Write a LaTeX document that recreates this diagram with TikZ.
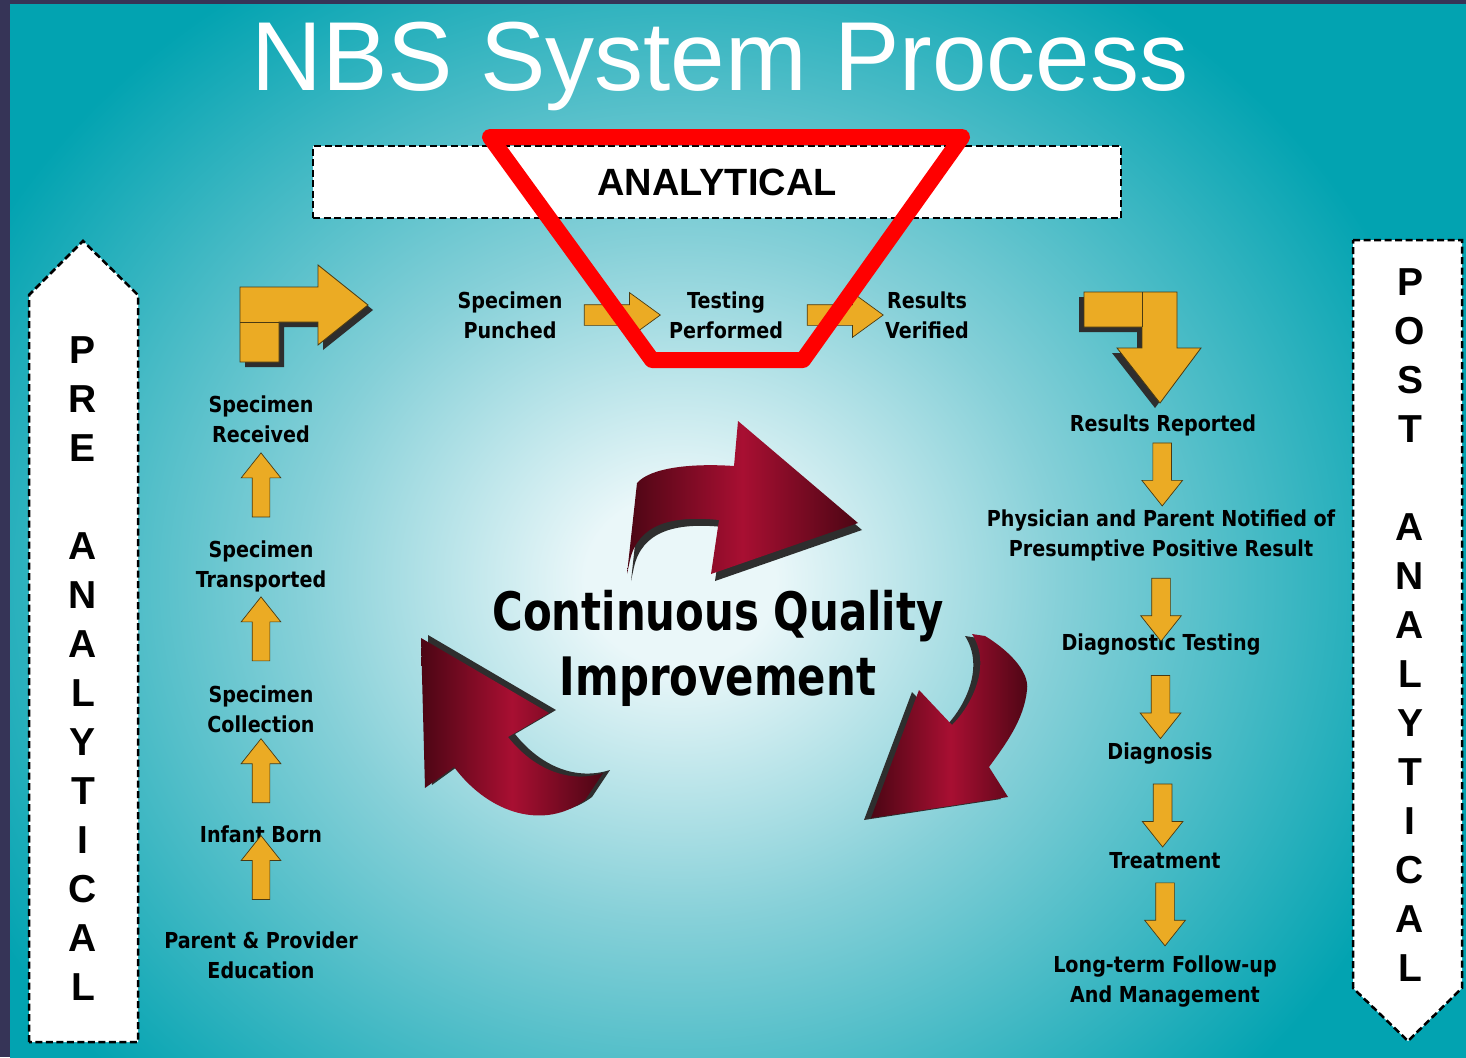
\documentclass[tikz,border=0pt]{standalone}
\usepackage{fontspec}
\setmainfont{DejaVu Sans}
\newfontfamily\lblfont{DejaVu Sans}[FakeStretch=0.87]
\newfontfamily\headfont{Liberation Sans}
\newfontfamily\cqifont{DejaVu Sans}[FakeStretch=0.79]
\usetikzlibrary{shapes.arrows}

\definecolor{bgteal}{HTML}{02A3B1}
\definecolor{glow}{HTML}{EAF7F9}
\definecolor{midteal}{HTML}{86D0D8}
\definecolor{framec}{HTML}{363457}
\definecolor{gold}{HTML}{EBAB24}
\definecolor{goldline}{HTML}{4A3A12}
\definecolor{crimson}{HTML}{A80F32}
\definecolor{maroon}{HTML}{4C0614}
\definecolor{shadowc}{HTML}{2E2E2E}

\pgfdeclareradialshading{glowbg}{\pgfpoint{0bp}{0bp}}{color(0bp)=(glow); color(3bp)=(glow); color(12bp)=(midteal); color(25bp)=(bgteal); color(50bp)=(bgteal)}

\tikzset{
  lbl/.style={font=\lblfont\bfseries\fontsize{22}{30}\selectfont, align=center, text=black, inner sep=1pt},
  banner/.style={font=\headfont\bfseries\fontsize{39}{49}\selectfont, align=center, inner sep=0pt},
  dashbox/.style={draw=black, fill=white, line width=2.5pt, dash pattern=on 7pt off 3.5pt},
  anabox/.style={dashbox, minimum width=808pt, minimum height=72pt, font=\headfont\bfseries\fontsize{38}{40}\selectfont},
  uparr/.style={single arrow, shape border rotate=90, draw=goldline, fill=gold, line width=.7pt,
    inner sep=0pt, text width=17pt, minimum height=64pt, single arrow head extend=11pt, single arrow tip angle=77},
  downarr/.style={uparr, shape border rotate=270, text width=18pt, minimum height=63pt},
  rightarr/.style={single arrow, draw=goldline, fill=gold, line width=.7pt, inner sep=0pt,
    text height=20pt, text depth=0pt, minimum height=76pt, single arrow head extend=12pt, single arrow tip angle=72},
  bent/.style={draw=goldline, fill=gold, line width=.8pt, line join=miter},
  cqarrow/.style={left color=maroon, right color=maroon, middle color=crimson},
}

\begin{document}
\begin{tikzpicture}[x=1pt,y=-1pt]
  \useasboundingbox (0,0) rectangle (1466,1057);
  % backdrop
  \fill[framec] (0,0) rectangle (1466,1057);
  \begin{scope}
    \clip (10,5) rectangle (1466,1057);
    \shade[shading=glowbg] (-110,-130) rectangle (1470,1290);
  \end{scope}

  \node[anchor=base, text=white, font=\headfont\fontsize{98}{110}\selectfont] (title) at (720,90) {NBS System Process};

  % side banners
  \draw[dashbox] (29,1042) -- (29,295) -- (83,241) -- (138,295) -- (138,1042) -- cycle;
  \draw[dashbox] (1353,240) -- (1462,240) -- (1462,988) -- (1408,1041) -- (1353,988) -- cycle;
  \node[banner, anchor=north] (pre) at (83,336) {P\\R\\E\\[49pt]A\\N\\A\\L\\Y\\T\\I\\C\\A\\L};
  \node[banner, anchor=north] (post) at (1410,268) {P\\O\\S\\T\\[49pt]A\\N\\A\\L\\Y\\T\\I\\C\\A\\L};

  \node[anabox] (ana) at (717,182) {ANALYTICAL};

  % the three red arrows of the cycle
  \fill[shadowc, shift={(4,7)}] (637,483) .. controls (650,468) and (690,463) .. (734,466) -- (738,421) -- (858,523) -- (711,574) -- (719,520) .. controls (670,515) and (638,525) .. (630,560) -- (627,574) -- cycle;
  \shade[cqarrow] (637,483) .. controls (650,468) and (690,463) .. (734,466) -- (738,421) -- (858,523) -- (711,574) -- (719,520) .. controls (670,515) and (638,525) .. (630,560) -- (627,574) -- cycle;
  \fill[shadowc, shift={(7,-3)}] (421,638) -- (549,713) -- (508,737) .. controls (530,765) and (565,785) .. (603,773) -- (585,800) .. controls (545,830) and (490,815) .. (454,767) -- (425,788) -- cycle;
  \shade[cqarrow] (421,638) -- (549,713) -- (508,737) .. controls (530,765) and (565,785) .. (603,773) -- (585,800) .. controls (545,830) and (490,815) .. (454,767) -- (425,788) -- cycle;
  \fill[shadowc, shift={(-7,2)}] (972,634) -- (985,636) .. controls (1005,648) and (1030,670) .. (1027,690) .. controls (1024,720) and (1005,745) .. (989,767) -- (1008,797) -- (871,818) -- (919,690) -- (952,725) .. controls (972,705) and (992,665) .. (972,634) -- cycle;
  \shade[cqarrow] (972,634) -- (985,636) .. controls (1005,648) and (1030,670) .. (1027,690) .. controls (1024,720) and (1005,745) .. (989,767) -- (1008,797) -- (871,818) -- (919,690) -- (952,725) .. controls (972,705) and (992,665) .. (972,634) -- cycle;

  \node[anchor=north, font=\cqifont\bfseries\fontsize{53}{65}\selectfont, align=center, inner sep=0pt] (cqi) at (718,590) {Continuous Quality\\Improvement};

  % pre-analytical steps
  \node[lbl] (rcv) at (261,419) {Specimen\\Received};
  \node[lbl] (trn) at (261,566) {Specimen\\Transported};
  \node[lbl] (col) at (261,709) {Specimen\\Collection};
  \node[lbl] (inf) at (261,834) {Infant Born};
  \node[lbl] (edu) at (261,955) {Parent \& Provider\\Education};
  \path (trn) -- (rcv) node[pos=.51, uparr] {};
  \path (col) -- (trn) node[pos=.545, uparr] {};
  \path (inf) -- (col) node[pos=.53, uparr] {};
  \path (edu) -- (inf) node[pos=.66, uparr] {};

  % analytical steps
  \node[lbl] (pun) at (510,315) {Specimen\\Punched};
  \node[lbl] (tst) at (726,315) {Testing\\Performed};
  \node[lbl] (ver) at (927,315) {Results\\Verified};
  \path (pun) -- (tst) node[pos=.495, rightarr] {};
  \path (tst) -- (ver) node[pos=.54, rightarr] {};

  % post-analytical steps
  \node[lbl] (rep) at (1163,425) {Results Reported};
  \node[lbl] (phy) at (1161,535) {Physician and Parent Notified of\\Presumptive Positive Result};
  \node[lbl] (dia) at (1161,645) {Diagnostic Testing};
  \node[lbl] (dgn) at (1160,754) {Diagnosis};
  \node[lbl] (trt) at (1165,861) {Treatment};
  \node[lbl] (ltf) at (1165,982) {Long-term Follow-up\\And Management};
  \path (rep) -- (phy) node[pos=.445, downarr] {};
  \path (phy) -- (dia) node[pos=.59, downarr] {};
  \path (dia) -- (dgn) node[pos=.52, downarr] {};
  \path (dgn) -- (trt) node[pos=.51, downarr] {};
  \path (trt) -- (ltf) node[pos=.45, downarr] {};

  % red outline of the analytical phase
  \draw[red, line width=16pt, line join=round] (490,137) -- (962,137) -- (803,360) -- (652,360) -- cycle;

  % bent arrows between the phases
  \fill[shadowc, shift={(5,5)}] (240,362) -- (240,287) -- (318,287) -- (318,265) -- (368,305) -- (318,345) -- (318,322) -- (279,322) -- (279,362) -- cycle;
  \draw[bent] (240,362) -- (240,287) -- (318,287) -- (318,265) -- (368,305) -- (318,345) -- (318,322) -- (279,322) -- (279,362) -- cycle;
  \draw[goldline, line width=.8pt] (240,322) -- (279,322);
  \fill[shadowc, shift={(-5,5)}] (1084,292) -- (1177,292) -- (1177,348) -- (1201,348) -- (1160,403) -- (1117,348) -- (1142,348) -- (1142,327) -- (1084,327) -- cycle;
  \draw[bent] (1084,292) -- (1177,292) -- (1177,348) -- (1201,348) -- (1160,403) -- (1117,348) -- (1142,348) -- (1142,327) -- (1084,327) -- cycle;
  \draw[goldline, line width=.8pt] (1142,292) -- (1142,327);
\end{tikzpicture}
\end{document}
